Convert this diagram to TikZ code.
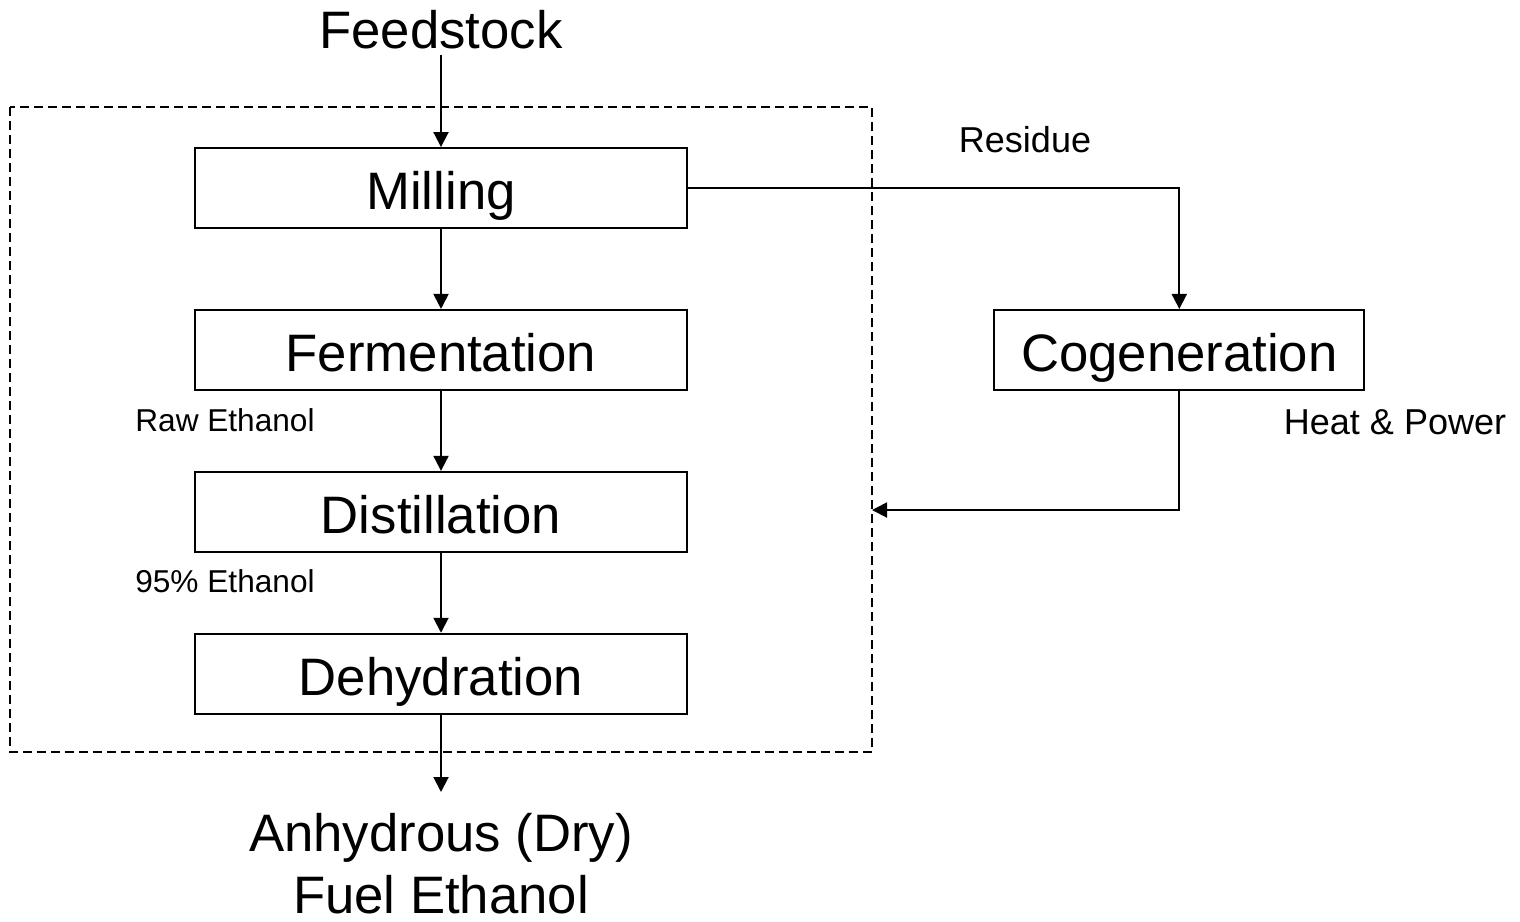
\documentclass[tikz,border=0pt]{standalone}
\usepackage{fontspec}
\setmainfont{Liberation Sans}
\usetikzlibrary{positioning,arrows.meta}
\newcommand{\bigsize}{\fontsize{30}{35.2}\selectfont}
\newcommand{\smallsize}{\fontsize{18}{22}\selectfont}
\newcommand{\flowsize}{\fontsize{20.5}{24}\selectfont}

\begin{document}
\begin{tikzpicture}[->,>={Triangle[length=0.3cm,width=0.3cm]},x=0.02cm,y=-0.02cm,
    line width=1.1pt,node distance=1.6cm,
    stage/.style={draw,minimum width=9.86cm,minimum height=1.6cm,font=\bigsize,
      text height=24.9pt,text depth=0pt},
    plant/.style={-,dash pattern=on 0.18cm off 0.1cm},
    note/.style={font=\smallsize},
    flow/.style={font=\flowsize}]
  \useasboundingbox (0,0) rectangle (1520,921);
  \draw[plant] (10,107) rectangle (872,752);
  \node[font=\bigsize,anchor=base] (feed) at (441,48) {Feedstock};
  \node[stage] (mill) at (441,188) {Milling};
  \node[stage,below=of mill] (ferm) {Fermentation};
  \node[stage,below=of ferm] (dist) {Distillation};
  \node[stage,below=of dist] (dehyd) {Dehydration};
  \node[stage,minimum width=7.4cm,right=6.1cm of ferm] (cogen) {Cogeneration};
  \node[font=\bigsize,align=center,anchor=north,inner sep=0pt] (prod) at (441,812)
    {Anhydrous (Dry)\\Fuel Ethanol};
  \coordinate (prodtip) at (441,792);
  \coordinate (plantin) at (872,510);
  \node[flow] (residue) at (1025,140) {Residue};
  \node[flow] (heat) at (1395,422) {Heat \& Power};
  \node[note] (raw) at (225,420) {Raw Ethanol};
  \node[note] (ninety) at (225,581) {95\% Ethanol};
  \draw (feed) -- (mill);
  \draw (mill) -- (ferm);
  \draw (ferm) -- (dist);
  \draw (dist) -- (dehyd);
  \draw (dehyd) -- (prodtip);
  \draw (mill.east) -| (cogen.north);
  \draw (cogen.south) |- (plantin);
\end{tikzpicture}
\end{document}
